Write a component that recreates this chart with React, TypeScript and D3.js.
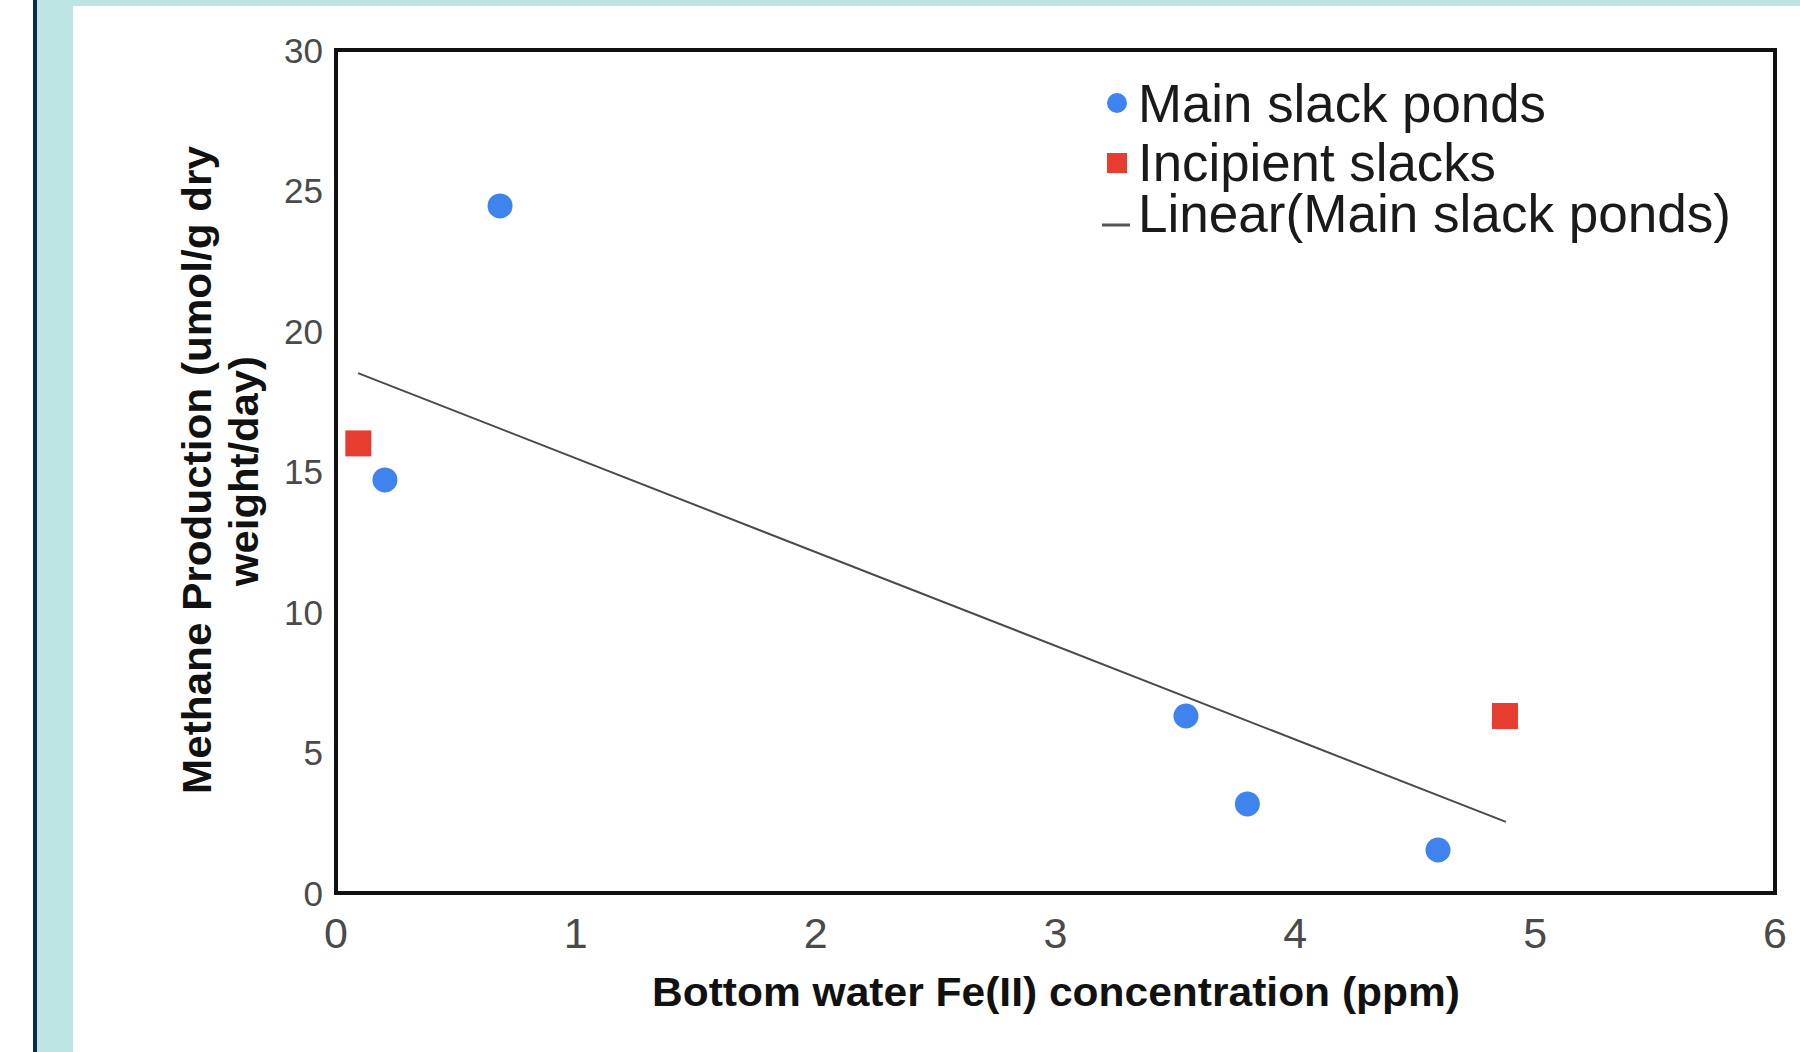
import React from "react";
import * as d3 from "d3";

const mainX = [0.684, 0.204, 3.544, 3.8, 4.595];
const mainY = [24.45, 14.7, 6.3, 3.17, 1.53];
const incX = [0.093, 4.874];
const incY = [16.0, 6.3];
const trendX = [0.092, 4.878];
const trendY = [18.5, 2.53];
const xTicks = [0, 1, 2, 3, 4, 5, 6];
const yTicks = [0, 5, 10, 15, 20, 25, 30];
const legendLabels = ["Main slack ponds", "Incipient slacks", "Linear(Main slack ponds)"];

const W = 1800;
const H = 1052;
const plot = { left: 336, right: 1775, top: 50, bottom: 893 };
const BLUE = "#3f83ee";
const RED = "#e73c30";

export default function App() {
  const x = d3.scaleLinear().domain([0, 6]).range([plot.left, plot.right]);
  const y = d3.scaleLinear().domain([0, 30]).range([plot.bottom, plot.top]);
  const line = d3
    .line<number>()
    .x((d) => x(d))
    .y((_, i) => y(trendY[i]));
  const font = "Arial, 'Liberation Sans', sans-serif";
  const legendY = [103, 163, 216];
  const legendBase = [122, 181, 232];
  const legendLen = [408, 358, 593];

  return (
    <svg
      width={W}
      height={H}
      style={{ position: "absolute", left: 0, top: 0, display: "block" }}
      fontFamily={font}
    >
      <rect x={0} y={0} width={W} height={H} fill="#ffffff" />
      <rect x={37} y={0} width={W - 37} height={H} fill="#bde5e4" />
      <rect x={33} y={0} width={4} height={H} fill="#0b2b4d" />
      <rect x={73} y={6} width={W - 73} height={H - 6} fill="#ffffff" />

      {/* trend line */}
      <path d={line(trendX) || ""} fill="none" stroke="#4a4a4a" strokeWidth={2} />

      {/* points */}
      {mainX.map((v, i) => (
        <circle key={"m" + i} cx={x(v)} cy={y(mainY[i])} r={12.5} fill={BLUE} />
      ))}
      {incX.map((v, i) => (
        <rect
          key={"r" + i}
          x={x(v) - 13}
          y={y(incY[i]) - 13}
          width={26}
          height={26}
          fill={RED}
        />
      ))}

      {/* frame */}
      <rect
        x={plot.left}
        y={plot.top}
        width={plot.right - plot.left}
        height={plot.bottom - plot.top}
        fill="none"
        stroke="#111"
        strokeWidth={4}
      />

      {/* y ticks */}
      {yTicks.map((t) => (
        <text
          key={"y" + t}
          x={323}
          y={y(t)}
          textAnchor="end"
          dominantBaseline="central"
          fontSize={35}
          fill="#4a4a4a"
        >
          {t}
        </text>
      ))}
      {/* x ticks */}
      {xTicks.map((t) => (
        <text
          key={"x" + t}
          x={x(t)}
          y={933}
          textAnchor="middle"
          dominantBaseline="central"
          fontSize={43}
          fill="#4a4a4a"
        >
          {t}
        </text>
      ))}

      {/* x title */}
      <text
        x={1056}
        y={1006}
        textAnchor="middle"
        fontSize={41}
        fontWeight="bold"
        fill="#111"
        textLength={808}
        lengthAdjust="spacingAndGlyphs"
      >
        Bottom water Fe(II) concentration (ppm)
      </text>

      {/* y title */}
      <g transform="translate(211,470) rotate(-90)">
        <text
          x={0}
          y={0}
          textAnchor="middle"
          fontSize={41}
          fontWeight="bold"
          fill="#111"
          textLength={648}
          lengthAdjust="spacingAndGlyphs"
        >
          Methane Production (umol/g dry
        </text>
      </g>
      <g transform="translate(258,471) rotate(-90)">
        <text
          x={0}
          y={0}
          textAnchor="middle"
          fontSize={41}
          fontWeight="bold"
          fill="#111"
          textLength={230}
          lengthAdjust="spacingAndGlyphs"
        >
          weight/day)
        </text>
      </g>

      {/* legend */}
      <circle cx={1117} cy={legendY[0]} r={10} fill={BLUE} />
      <rect x={1107} y={legendY[1] - 10} width={20} height={20} fill={RED} />
      <line x1={1102} x2={1130} y1={legendY[2] + 9} y2={legendY[2] + 9} stroke="#555" strokeWidth={3} />
      {legendLabels.map((l, i) => (
        <text
          key={l}
          x={1138}
          y={legendBase[i]}
          fontSize={53}
          fill="#1a1a1a"
          textLength={legendLen[i]}
          lengthAdjust="spacingAndGlyphs"
        >
          {l}
        </text>
      ))}
    </svg>
  );
}
